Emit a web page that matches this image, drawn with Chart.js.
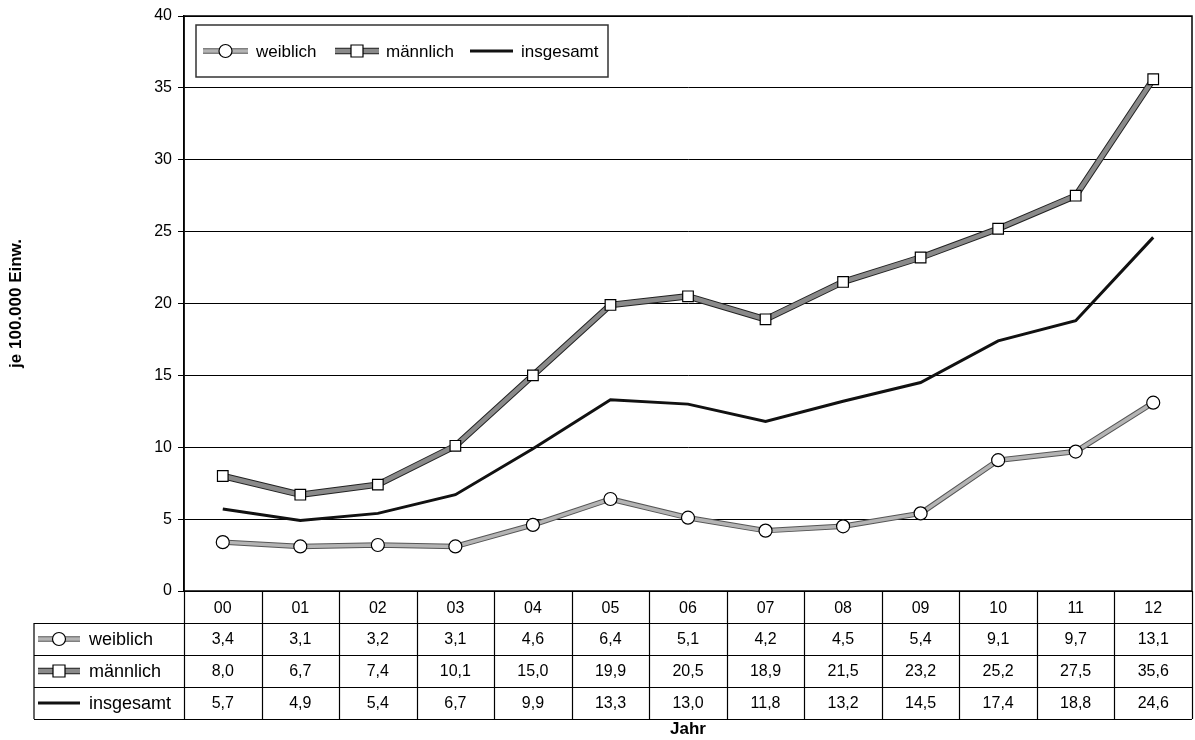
<!DOCTYPE html>
<html>
<head>
<meta charset="utf-8">
<script src="https://cdn.jsdelivr.net/npm/chart.js@4.4.1/dist/chart.umd.min.js"></script>
<style>
  html, body { margin: 0; padding: 0; background: #fff; }
  #wrap { width: 1195px; height: 740px; }
</style>
</head>
<body>
<div id="wrap"><canvas id="chart" width="1195" height="740"></canvas></div>
<script>
// Data
const years = ['00', '01', '02', '03', '04', '05', '06', '07', '08', '09', '10', '11', '12'];
const weiblich = [3.4, 3.1, 3.2, 3.1, 4.6, 6.4, 5.1, 4.2, 4.5, 5.4, 9.1, 9.7, 13.1];
const maennlich = [8.0, 6.7, 7.4, 10.1, 15.0, 19.9, 20.5, 18.9, 21.5, 23.2, 25.2, 27.5, 35.6];
const insgesamt = [5.7, 4.9, 5.4, 6.7, 9.9, 13.3, 13.0, 11.8, 13.2, 14.5, 17.4, 18.8, 24.6];
const seriesNames = ['weiblich', 'männlich', 'insgesamt'];
const yTicks = [0, 5, 10, 15, 20, 25, 30, 35, 40];

const FONT = '"Liberation Sans", Arial, sans-serif';

function fmt(v) {
    return v.toFixed(1).replace('.', ',');
}

// Legend sample: cased line + marker, styled from the dataset
function drawSample(ctx, ds, x1, x2, y) {
    ctx.save();
    if (ds.casingColor) {
        ctx.strokeStyle = ds.casingColor;
        ctx.lineWidth = ds.borderWidth + 2;
        ctx.beginPath();
        ctx.moveTo(x1, y);
        ctx.lineTo(x2, y);
        ctx.stroke();
    }
    ctx.strokeStyle = ds.borderColor;
    ctx.lineWidth = ds.borderWidth;
    ctx.beginPath();
    ctx.moveTo(x1, y);
    ctx.lineTo(x2, y);
    ctx.stroke();
    const mx = (x1 + x2) / 2;
    if (ds.pointRadius > 0) {
        ctx.fillStyle = '#fff';
        ctx.strokeStyle = '#000';
        ctx.lineWidth = 1.2;
        ctx.beginPath();
        if (ds.pointStyle === 'rect') {
            const r = ds.pointRadius * 0.8;
            ctx.rect(mx - r, y - r, 2 * r, 2 * r);
        } else {
            ctx.arc(mx, y, ds.pointRadius, 0, Math.PI * 2);
        }
        ctx.fill();
        ctx.stroke();
    }
    ctx.restore();
}

// Dark outline under the grey series lines
const casingPlugin = {
    id: 'casing',
    beforeDatasetDraw(chart, args) {
        const ds = chart.data.datasets[args.index];
        if (!ds.casingColor) return;
        const pts = args.meta.data;
        const ctx = chart.ctx;
        ctx.save();
        ctx.strokeStyle = ds.casingColor;
        ctx.lineWidth = ds.borderWidth + 2;
        ctx.lineJoin = 'round';
        ctx.beginPath();
        pts.forEach((p, i) => {
            if (i === 0) ctx.moveTo(p.x, p.y);
            else ctx.lineTo(p.x, p.y);
        });
        ctx.stroke();
        ctx.restore();
    }
};

// Frame, legend box and data table under the plot
const tablePlugin = {
    id: 'dataTable',
    afterDraw(chart) {
        const ctx = chart.ctx;
        const area = chart.chartArea;
        const xs = chart.scales.x;
        const half = (xs.getPixelForValue(1) - xs.getPixelForValue(0)) / 2;
        const rowH = 32;
        const legendLeft = 34;
        const tableBottom = area.bottom + rowH * 4;
        const datasets = chart.data.datasets;

        ctx.save();
        // plot frame
        ctx.strokeStyle = '#000';
        ctx.lineWidth = 1.5;
        ctx.strokeRect(area.left, area.top, area.right - area.left, area.bottom - area.top);

        // table lines
        ctx.lineWidth = 1.2;
        ctx.beginPath();
        for (let i = 0; i <= years.length; i++) {
            const px = Math.round(xs.getPixelForValue(i) - half) + 0.5;
            ctx.moveTo(px, area.bottom);
            ctx.lineTo(px, tableBottom);
        }
        ctx.moveTo(legendLeft, area.bottom + rowH);
        ctx.lineTo(legendLeft, tableBottom);
        for (let r = 1; r <= 4; r++) {
            const py = Math.round(area.bottom + rowH * r) + 0.5;
            ctx.moveTo(legendLeft, py);
            ctx.lineTo(area.right, py);
        }
        ctx.stroke();

        // rows
        ctx.textBaseline = 'middle';
        datasets.forEach((ds, r) => {
            const cy = area.bottom + rowH * (r + 1) + rowH / 2;
            drawSample(ctx, ds, legendLeft + 4, legendLeft + 46, cy);
            ctx.fillStyle = '#000';
            ctx.textAlign = 'left';
            ctx.font = '18px ' + FONT;
            ctx.fillText(seriesNames[r], legendLeft + 55, cy + 1);
            ctx.textAlign = 'center';
            ctx.font = '16px ' + FONT;
            ds.data.forEach((v, i) => {
                ctx.fillText(fmt(v), xs.getPixelForValue(i), cy + 1);
            });
        });

        // legend box
        const box = { x: 196, y: 25, w: 412, h: 52 };
        ctx.strokeStyle = '#333';
        ctx.lineWidth = 1.5;
        ctx.fillStyle = '#fff';
        ctx.fillRect(box.x, box.y, box.w, box.h);
        ctx.strokeRect(box.x, box.y, box.w, box.h);
        const items = [
            { s: 203, e: 248, t: 256 },
            { s: 335, e: 379, t: 386 },
            { s: 470, e: 513, t: 521 }
        ];
        const ly = box.y + box.h / 2;
        ctx.font = '17px ' + FONT;
        datasets.forEach((ds, i) => {
            drawSample(ctx, ds, items[i].s, items[i].e, ly);
            ctx.fillStyle = '#000';
            ctx.textAlign = 'left';
            ctx.fillText(seriesNames[i], items[i].t, ly + 1);
        });
        ctx.restore();
    }
};

const ctx = document.getElementById('chart').getContext('2d');
new Chart(ctx, {
    type: 'line',
    data: {
        labels: years,
        datasets: [
            {
                label: seriesNames[0],
                data: weiblich,
                borderColor: '#b4b4b4',
                casingColor: '#555',
                borderWidth: 3.5,
                pointStyle: 'circle',
                pointRadius: 6.5,
                pointBackgroundColor: '#fff',
                pointBorderColor: '#000',
                pointBorderWidth: 1.2,
                tension: 0
            },
            {
                label: seriesNames[1],
                data: maennlich,
                borderColor: '#8a8a8a',
                casingColor: '#222',
                borderWidth: 4.5,
                pointStyle: 'rect',
                pointRadius: 7.5,
                pointBackgroundColor: '#fff',
                pointBorderColor: '#000',
                pointBorderWidth: 1.2,
                tension: 0
            },
            {
                label: seriesNames[2],
                data: insgesamt,
                borderColor: '#111',
                borderWidth: 3,
                pointRadius: 0,
                tension: 0
            }
        ]
    },
    options: {
        responsive: false,
        animation: false,
        layout: {
            autoPadding: false,
            padding: { top: 16, right: 3, left: 0, bottom: 0 }
        },
        plugins: {
            legend: { display: false },
            tooltip: { enabled: false }
        },
        scales: {
            x: {
                type: 'category',
                offset: true,
                grid: { display: false },
                border: { display: false },
                ticks: {
                    color: '#000',
                    font: { family: FONT, size: 16 },
                    padding: 0,
                    maxRotation: 0
                },
                title: {
                    display: true,
                    text: 'Jahr',
                    color: '#000',
                    font: { family: FONT, size: 17, weight: 'bold' },
                    padding: { top: 0, bottom: 0 }
                },
                afterFit(scale) {
                    scale.height = 149;
                    scale.paddingLeft = 0;
                    scale.paddingRight = 0;
                }
            },
            y: {
                min: 0,
                max: 40,
                afterBuildTicks(scale) {
                    scale.ticks = yTicks.map(v => ({ value: v }));
                },
                grid: {
                    color: '#000',
                    lineWidth: 1,
                    drawTicks: true,
                    tickLength: 6
                },
                border: { color: '#000', width: 1.5 },
                ticks: {
                    color: '#000',
                    font: { family: FONT, size: 16 },
                    padding: 6
                },
                title: {
                    display: true,
                    text: 'je 100.000 Einw.',
                    color: '#000',
                    font: { family: FONT, size: 17, weight: 'bold' },
                    padding: { top: 6, bottom: 0 }
                },
                afterFit(scale) {
                    scale.width = 184;
                    scale.paddingTop = 0;
                    scale.paddingBottom = 0;
                }
            }
        }
    },
    plugins: [casingPlugin, tablePlugin]
});
</script>
</body>
</html>
